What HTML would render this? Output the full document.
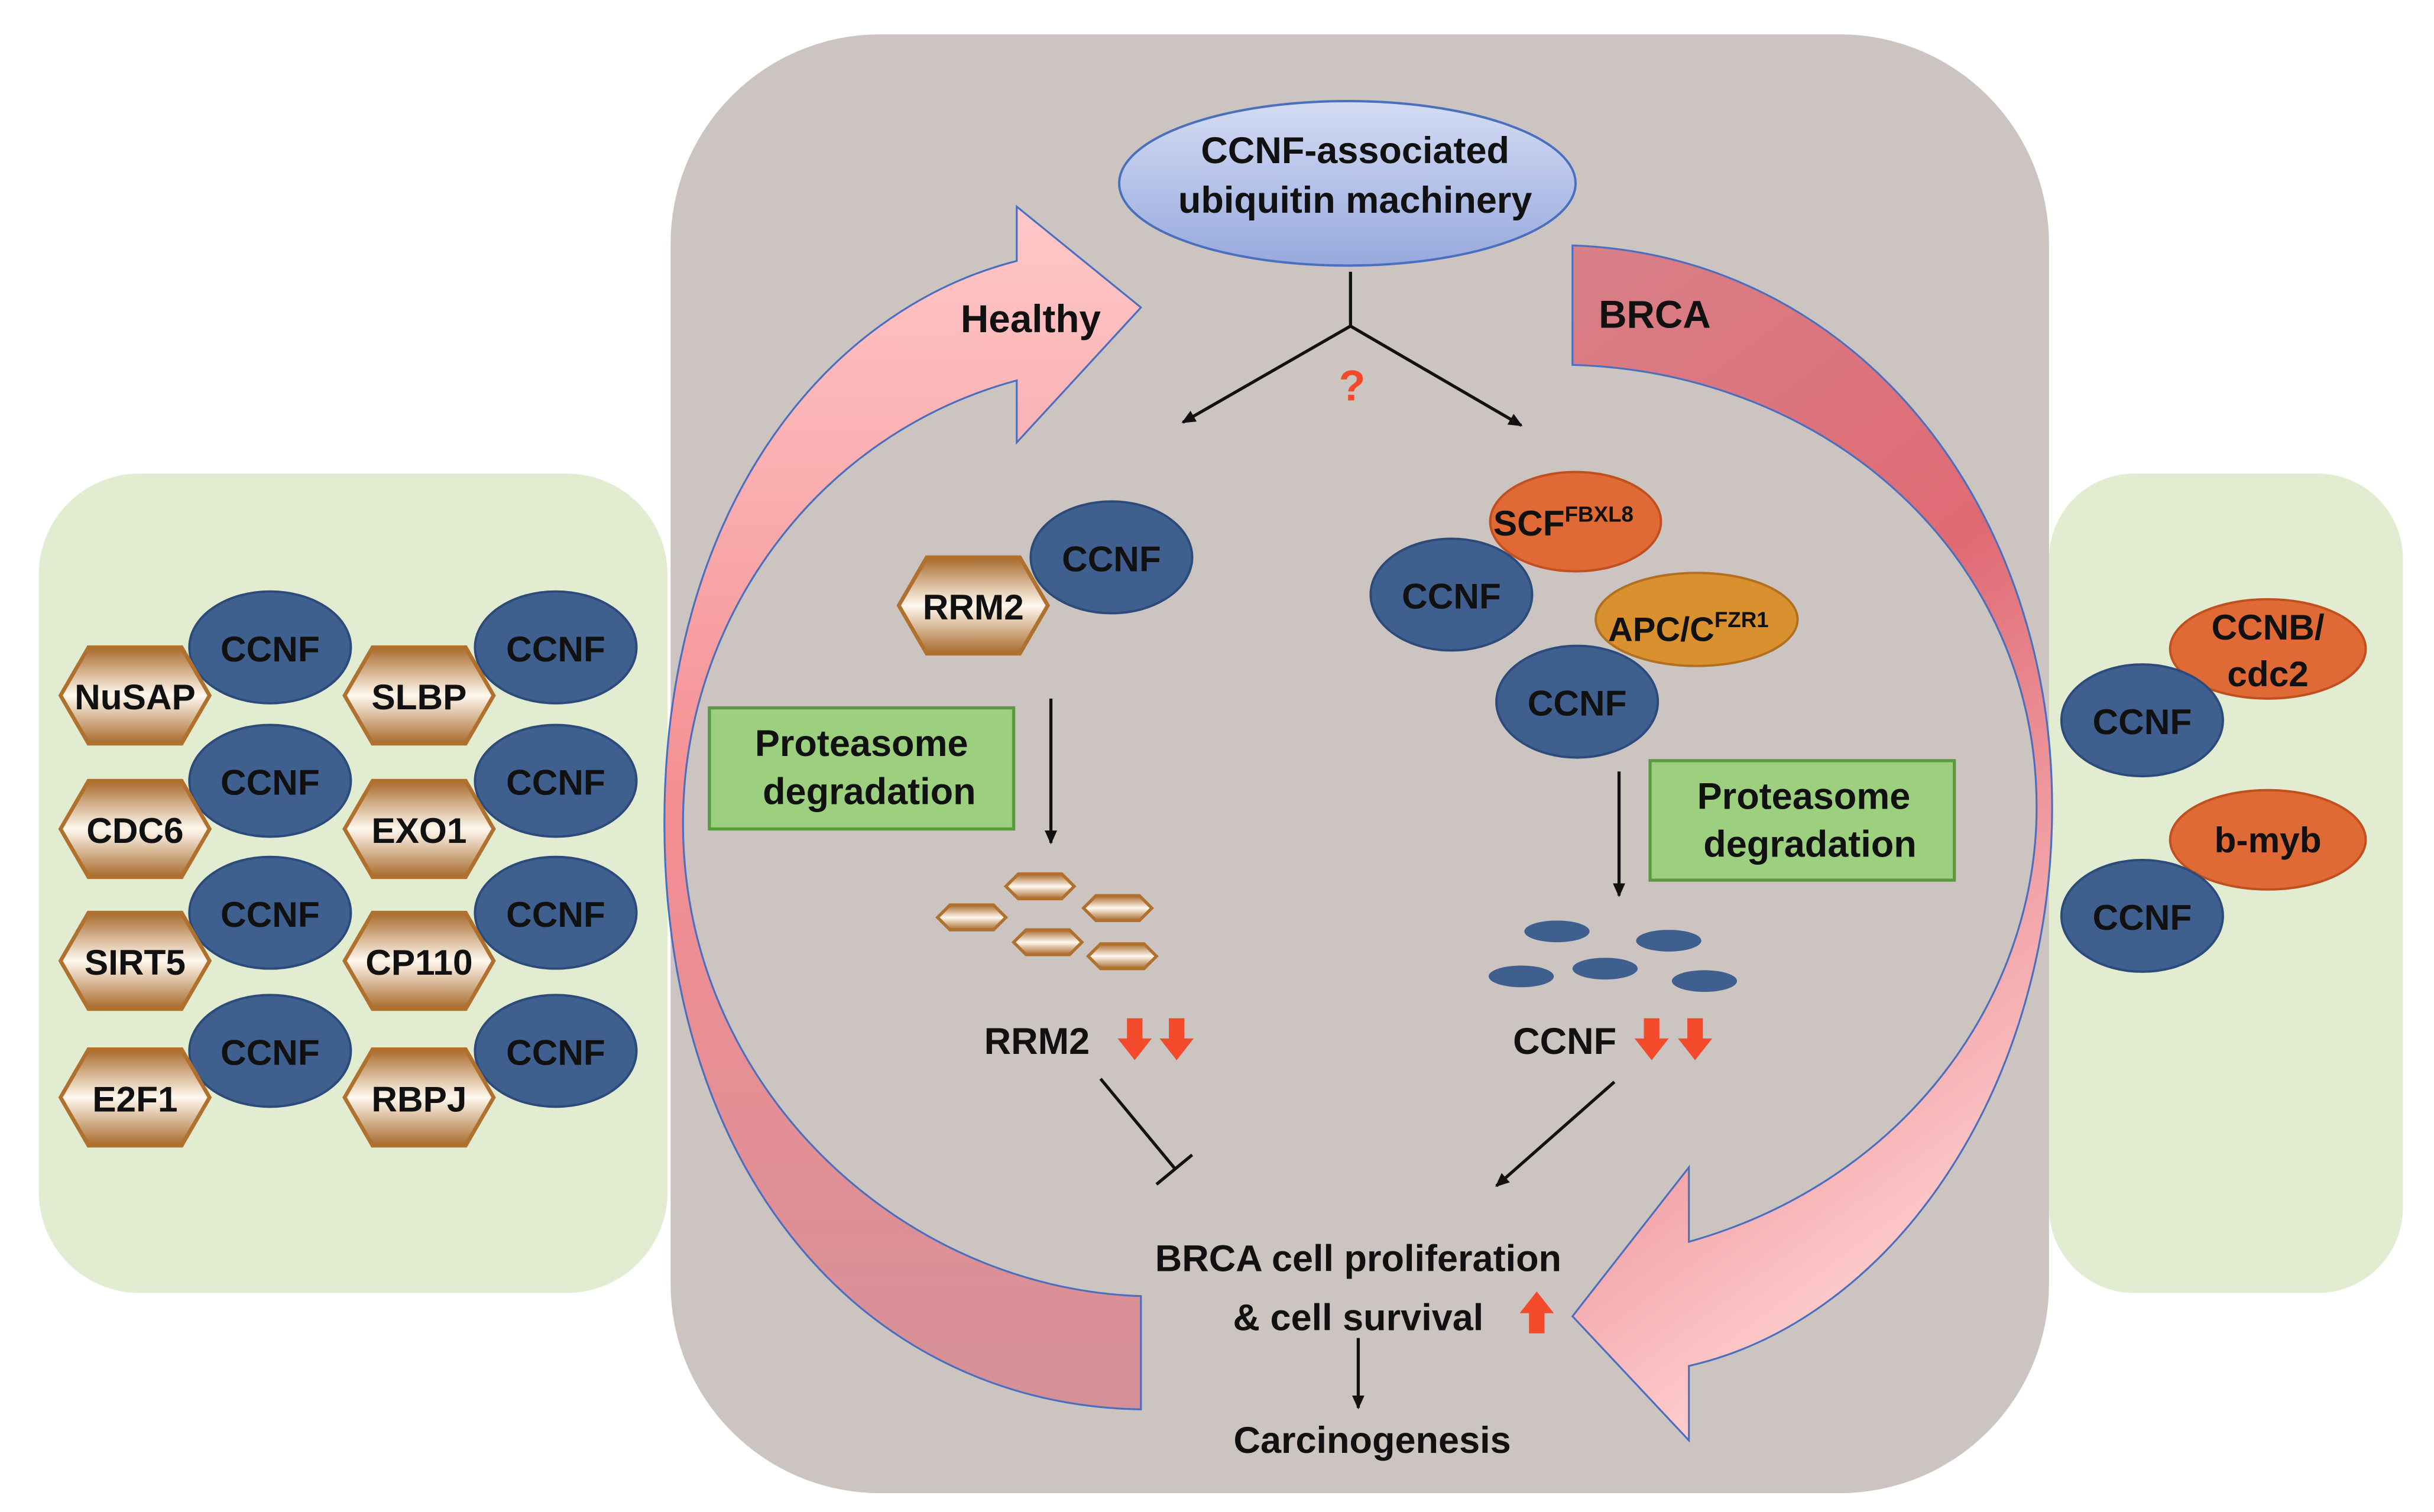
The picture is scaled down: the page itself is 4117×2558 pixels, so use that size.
<!DOCTYPE html>
<html><head><meta charset="utf-8"><style>
html,body{margin:0;padding:0;background:#fff;}
svg{display:block;}
text{font-family:"Liberation Sans",Arial,sans-serif;font-weight:bold;fill:#111;}
</style></head><body>
<svg width="4117" height="2558" viewBox="0 0 1568 974" xmlns="http://www.w3.org/2000/svg">
<defs>
<linearGradient id="hex" x1="0" y1="0" x2="0" y2="1">
<stop offset="0" stop-color="#a86a2c"/><stop offset="0.5" stop-color="#fff8ee"/><stop offset="1" stop-color="#a86a2c"/>
</linearGradient>
<linearGradient id="top" x1="0" y1="0" x2="0" y2="1">
<stop offset="0" stop-color="#d4dcf4"/><stop offset="1" stop-color="#97a9dd"/>
</linearGradient>
<linearGradient id="hl" x1="0" y1="0" x2="0" y2="1">
<stop offset="0" stop-color="#ffc8c8"/><stop offset="0.5" stop-color="#f48e92"/><stop offset="1" stop-color="#d59098"/>
</linearGradient>
<linearGradient id="br2" x1="0" y1="0" x2="0.3" y2="1">
<stop offset="0" stop-color="#d88088"/><stop offset="0.45" stop-color="#e06a74"/><stop offset="1" stop-color="#ffd0d0"/>
</linearGradient>
<marker id="ah" markerWidth="10" markerHeight="10" refX="8" refY="5" orient="auto" markerUnits="userSpaceOnUse">
<path d="M0,1 L9,5 L0,9 Z" fill="#111"/></marker>
<g id="hx"><polygon points="-48,0 -30,-31 30,-31 48,0 30,31 -30,31" fill="url(#hex)" stroke="#b0702e" stroke-width="2.5"/></g>
<g id="sh"><polygon points="-22,0 -14,-8 14,-8 22,0 14,8 -14,8" fill="url(#hex)" stroke="#b0702e" stroke-width="2"/></g>
<g id="ce"><ellipse rx="52" ry="36" fill="#3f5f8f" stroke="#2c4b7a" stroke-width="1.5"/></g>
<g id="da"><polygon points="-5,-13 5,-13 5,0 11,0 0,14 -11,0 -5,0" fill="#f24a2a"/></g>
</defs>
<rect width="1568" height="974" fill="#fff"/>
<rect x="25" y="305" width="405" height="528" rx="65" fill="#e2ecd1"/>
<rect x="1320" y="305" width="228" height="528" rx="55" fill="#e2ecd1"/>
<rect x="432" y="22" width="888" height="940" rx="135" fill="#ccc4c1"/>

<path d="M735,908 C560,905 428,760 428,530 C428,330 530,200 655,168 L655,133 L735,198 L655,285 L655,245 C525,280 440,400 440,530 C440,700 580,830 735,835 Z" fill="url(#hl)" stroke="#4a6fbf" stroke-width="1.2"/>
<path d="M1013,158 C1200,165 1322,330 1322,520 C1322,700 1220,850 1088,880 L1088,928 L1013,848 L1088,752 L1088,800 C1230,760 1312,640 1312,520 C1312,360 1180,240 1013,235 Z" fill="url(#br2)" stroke="#4a6fbf" stroke-width="1.2"/>
<text x="664" y="214" font-size="25" text-anchor="middle">Healthy</text>
<text x="1066" y="211" font-size="25" text-anchor="middle">BRCA</text>

<ellipse cx="868" cy="118" rx="147" ry="53" fill="url(#top)" stroke="#4a6fbf" stroke-width="1.5"/>
<text x="873" y="105" font-size="24" text-anchor="middle">CCNF-associated</text>
<text x="873" y="137" font-size="24" text-anchor="middle">ubiquitin machinery</text>
<path d="M870,175 L870,210" stroke="#111" stroke-width="2"/>
<path d="M870,210 L762,272" stroke="#111" stroke-width="2" marker-end="url(#ah)"/>
<path d="M870,210 L980,274" stroke="#111" stroke-width="2" marker-end="url(#ah)"/>
<text x="871" y="258" font-size="28" text-anchor="middle" style="fill:#f24a2a">?</text>

<g font-size="23">
<use href="#ce" x="174" y="417"/><use href="#hx" x="87" y="448"/><text x="174" y="426" text-anchor="middle">CCNF</text><text x="87" y="457" text-anchor="middle">NuSAP</text>
<use href="#ce" x="358" y="417"/><use href="#hx" x="270" y="448"/><text x="358" y="426" text-anchor="middle">CCNF</text><text x="270" y="457" text-anchor="middle">SLBP</text>
<use href="#ce" x="174" y="503"/><use href="#hx" x="87" y="534"/><text x="174" y="512" text-anchor="middle">CCNF</text><text x="87" y="543" text-anchor="middle">CDC6</text>
<use href="#ce" x="358" y="503"/><use href="#hx" x="270" y="534"/><text x="358" y="512" text-anchor="middle">CCNF</text><text x="270" y="543" text-anchor="middle">EXO1</text>
<use href="#ce" x="174" y="588"/><use href="#hx" x="87" y="619"/><text x="174" y="597" text-anchor="middle">CCNF</text><text x="87" y="628" text-anchor="middle">SIRT5</text>
<use href="#ce" x="358" y="588"/><use href="#hx" x="270" y="619"/><text x="358" y="597" text-anchor="middle">CCNF</text><text x="270" y="628" text-anchor="middle">CP110</text>
<use href="#ce" x="174" y="677"/><use href="#hx" x="87" y="707"/><text x="174" y="686" text-anchor="middle">CCNF</text><text x="87" y="716" text-anchor="middle">E2F1</text>
<use href="#ce" x="358" y="677"/><use href="#hx" x="270" y="707"/><text x="358" y="686" text-anchor="middle">CCNF</text><text x="270" y="716" text-anchor="middle">RBPJ</text>
</g>

<use href="#ce" x="716" y="359"/><use href="#hx" x="627" y="390"/>
<text x="716" y="368" font-size="23" text-anchor="middle">CCNF</text>
<text x="627" y="399" font-size="23" text-anchor="middle">RRM2</text>
<rect x="457" y="456" width="196" height="78" fill="#9ccf7e" stroke="#5a9a40" stroke-width="2"/>
<text x="555" y="487" font-size="24" text-anchor="middle">Proteasome</text>
<text x="560" y="518" font-size="24" text-anchor="middle">degradation</text>
<path d="M677,450 L677,543" stroke="#111" stroke-width="2" marker-end="url(#ah)"/>
<use href="#sh" x="626" y="591"/><use href="#sh" x="670" y="571"/><use href="#sh" x="720" y="585"/><use href="#sh" x="675" y="607"/><use href="#sh" x="723" y="616"/>
<text x="668" y="679" font-size="24" text-anchor="middle">RRM2</text>
<use href="#da" x="731" y="669"/><use href="#da" x="758" y="669"/>
<path d="M709,695 L757,753" stroke="#111" stroke-width="2"/>
<path d="M745,763 L768,744" stroke="#111" stroke-width="2"/>

<ellipse cx="1015" cy="336" rx="55" ry="32" fill="#e06a35" stroke="#c05020" stroke-width="1.5"/>
<use href="#ce" x="935" y="383"/>
<ellipse cx="1093" cy="399" rx="65" ry="30" fill="#d9902e" stroke="#b07020" stroke-width="1.5"/>
<use href="#ce" x="1016" y="452"/>
<text x="962" y="345" font-size="23">SCF<tspan font-size="14" dy="-9">FBXL8</tspan></text>
<text x="935" y="392" font-size="23" text-anchor="middle">CCNF</text>
<text x="1036" y="413" font-size="22">APC/C<tspan font-size="14" dy="-9">FZR1</tspan></text>
<text x="1016" y="461" font-size="23" text-anchor="middle">CCNF</text>
<rect x="1063" y="490" width="196" height="77" fill="#9ccf7e" stroke="#5a9a40" stroke-width="2"/>
<text x="1162" y="521" font-size="24" text-anchor="middle">Proteasome</text>
<text x="1166" y="552" font-size="24" text-anchor="middle">degradation</text>
<path d="M1043,497 L1043,577" stroke="#111" stroke-width="2" marker-end="url(#ah)"/>
<g fill="#3f5f8f"><ellipse cx="1003" cy="600" rx="21" ry="7"/><ellipse cx="1075" cy="606" rx="21" ry="7"/><ellipse cx="980" cy="629" rx="21" ry="7"/><ellipse cx="1034" cy="624" rx="21" ry="7"/><ellipse cx="1098" cy="632" rx="21" ry="7"/></g>
<text x="1008" y="679" font-size="24" text-anchor="middle">CCNF</text>
<use href="#da" x="1064" y="669"/><use href="#da" x="1092" y="669"/>
<path d="M1040,697 L964,764" stroke="#111" stroke-width="2" marker-end="url(#ah)"/>

<text x="875" y="819" font-size="24" text-anchor="middle">BRCA cell proliferation</text>
<text x="875" y="857" font-size="24" text-anchor="middle">&amp; cell survival</text>
<use href="#da" x="990" y="846" transform="rotate(180 990 846)"/>
<path d="M875,862 L875,907" stroke="#111" stroke-width="2" marker-end="url(#ah)"/>
<text x="884" y="936" font-size="24" text-anchor="middle">Carcinogenesis</text>

<ellipse cx="1461" cy="418" rx="63" ry="32" fill="#e06a35" stroke="#c05020" stroke-width="1.5"/>
<use href="#ce" x="1380" y="464"/>
<text x="1461" y="412" font-size="23" text-anchor="middle">CCNB/</text>
<text x="1461" y="442" font-size="23" text-anchor="middle">cdc2</text>
<text x="1380" y="473" font-size="23" text-anchor="middle">CCNF</text>
<ellipse cx="1461" cy="541" rx="63" ry="32" fill="#e06a35" stroke="#c05020" stroke-width="1.5"/>
<use href="#ce" x="1380" y="590"/>
<text x="1461" y="549" font-size="23" text-anchor="middle">b-myb</text>
<text x="1380" y="599" font-size="23" text-anchor="middle">CCNF</text>
</svg>
</body></html>
